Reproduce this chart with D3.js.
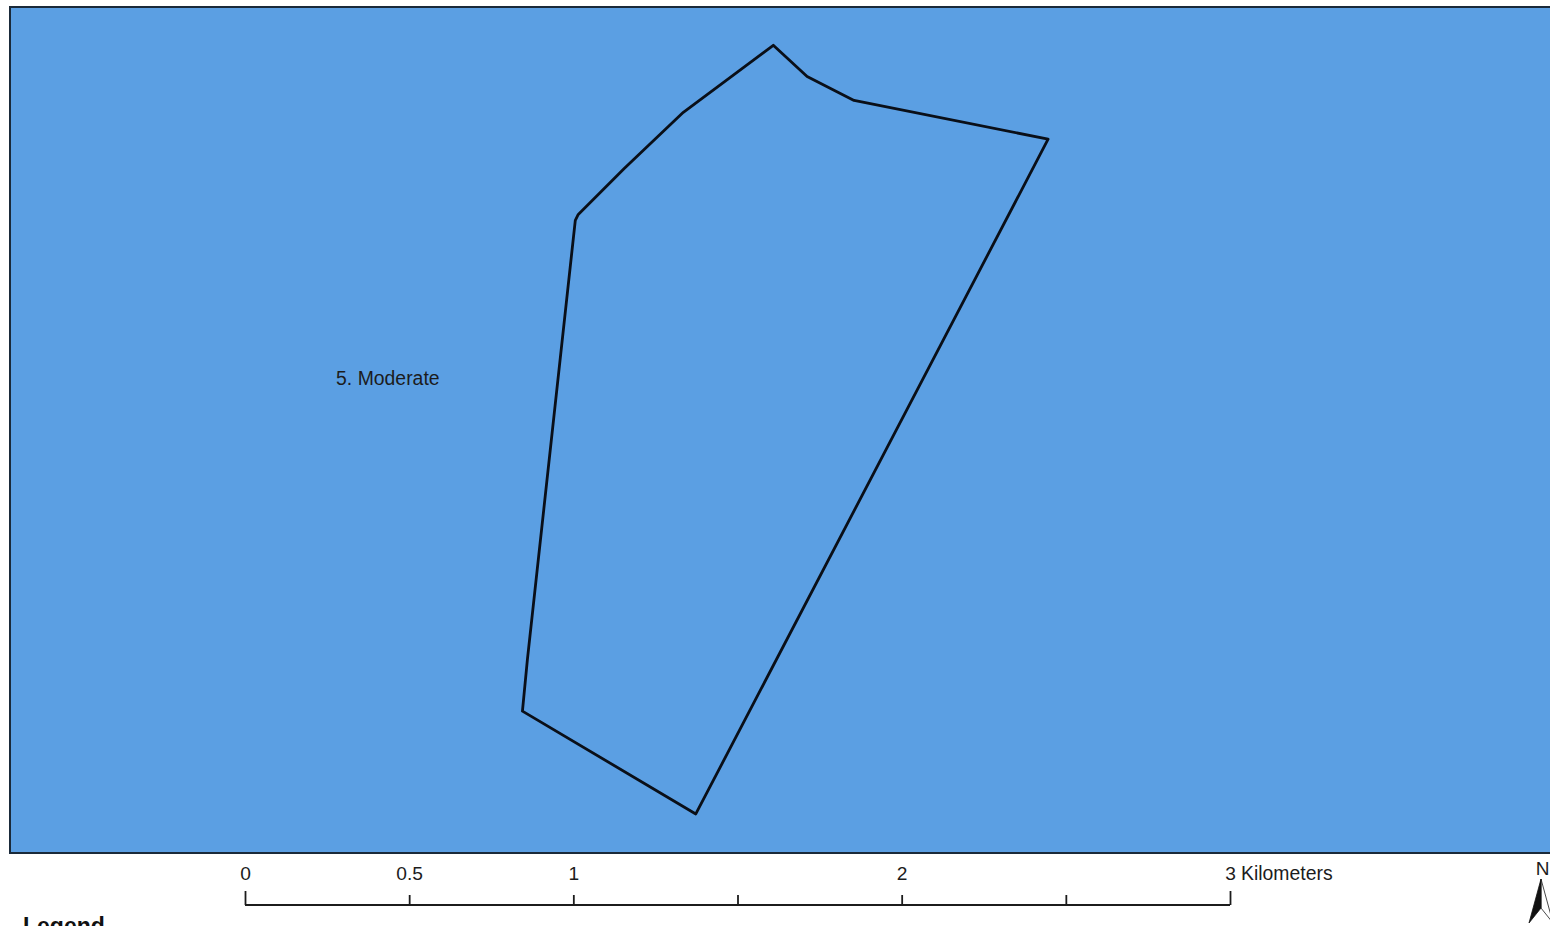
<!DOCTYPE html>
<html>
<head>
<meta charset="utf-8">
<script src="https://d3js.org/d3.v7.min.js"></script>
<style>
  html, body { margin: 0; padding: 0; background: #fff; overflow: hidden; }
  svg { display: block; }
  text { font-family: "Liberation Sans", Arial, sans-serif; fill: #1c1c1c; }
</style>
</head>
<body>
<div id="map"></div>
<script>
// boundary vertices, in km from the lower left of the scale origin
var boundaryX = [1.609, 1.712, 1.855, 2.446, 1.373, 0.845, 0.860, 1.006, 1.015, 1.155, 1.335];
var boundaryY = [2.460, 2.365, 2.292, 2.174, 0.119, 0.432, 0.588, 1.927, 1.945, 2.085, 2.256];

var scaleTicks = [0, 0.5, 1, 1.5, 2, 2.5, 3];
var scaleLabels = ["0", "0.5", "1", "", "2", "", "3"];
var scaleUnit = "Kilometers";
var zoneLabel = "5. Moderate";
var zoneLabelPos = [0.435, 1.425]; // km
var legendTitle = "Legend";
var northLabel = "N";

var width = 1550, height = 926;
var frame = {left: 10, top: 7, right: 1560, bottom: 853};

var svg = d3.select("#map").append("svg")
  .attr("width", width)
  .attr("height", height);

var x = d3.scaleLinear().domain([0, 3]).range([245, 1230]);
var y = d3.scaleLinear().domain([0, 3]).range([frame.bottom, frame.bottom - 985]);

// map frame
svg.append("rect")
  .attr("x", frame.left)
  .attr("y", frame.top)
  .attr("width", frame.right - frame.left)
  .attr("height", frame.bottom - frame.top)
  .style("fill", "#5b9fe3")
  .style("stroke", "#1a2a3a")
  .style("stroke-width", 2);

// zone boundary
var line = d3.line()
  .x(function(d) { return x(d[0]); })
  .y(function(d) { return y(d[1]); })
  .curve(d3.curveLinearClosed);

svg.append("path")
  .attr("d", line(d3.zip(boundaryX, boundaryY)))
  .style("fill", "none")
  .style("stroke", "#0a0f18")
  .style("stroke-width", 2.8)
  .style("stroke-linejoin", "round");

svg.append("text")
  .attr("x", x(zoneLabelPos[0]))
  .attr("y", y(zoneLabelPos[1]))
  .attr("text-anchor", "middle")
  .style("font-size", "19.4px")
  .text(zoneLabel);

// scale bar
var axis = d3.axisTop(x)
  .tickValues(scaleTicks)
  .tickSize(10)
  .tickPadding(15)
  .tickFormat(function(d, i) { return scaleLabels[i]; });

var bar = svg.append("g")
  .attr("transform", "translate(0,905)")
  .call(axis);

bar.select(".domain")
  .attr("d", "M" + x(0) + ",0H" + x(3))
  .style("stroke", "#1c1c1c")
  .style("stroke-width", 1.8);
bar.selectAll(".tick line")
  .style("stroke", "#1c1c1c")
  .style("stroke-width", 1.8);
bar.selectAll(".tick")
  .filter(function(d) { return d === 0 || d === 3; })
  .select("line")
  .attr("y2", -14);
bar.selectAll(".tick text")
  .style("font-size", "19.2px")
  .style("font-family", '"Liberation Sans", Arial, sans-serif')
  .style("fill", "#1c1c1c");

svg.append("text")
  .attr("x", x(3) + 11)
  .attr("y", 880)
  .style("font-size", "19.4px")
  .text(scaleUnit);

// north arrow
svg.append("text")
  .attr("x", 1542.5)
  .attr("y", 875)
  .attr("text-anchor", "middle")
  .style("font-size", "19px")
  .text(northLabel);

svg.append("path")
  .attr("d", "M1541,879L1553,923L1541,908Z")
  .style("fill", "#fff")
  .style("stroke", "#1c1c1c")
  .style("stroke-width", 0.8);
svg.append("path")
  .attr("d", "M1541,879L1529,923L1541,908Z")
  .style("fill", "#111")
  .style("stroke", "#111")
  .style("stroke-width", 0.8);

// legend title, runs off the bottom of the page
svg.append("text")
  .attr("x", 23)
  .attr("y", 934)
  .style("font-size", "23px")
  .style("font-weight", "bold")
  .style("fill", "#111")
  .text(legendTitle);
</script>
</body>
</html>
